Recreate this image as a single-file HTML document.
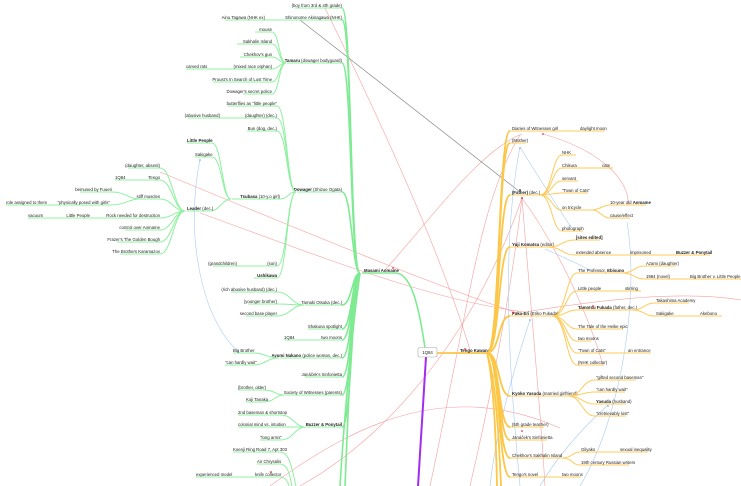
<!DOCTYPE html>
<html><head><meta charset="utf-8"><style>
html,body{margin:0;padding:0;background:#fff;}
svg{display:block;}
text{font-family:"Liberation Sans",sans-serif;font-size:4.3px;fill:#222;}
.b{font-weight:bold;}
.g{fill:none;stroke:#8ff0a0;stroke-width:1;}
.G{fill:none;stroke:#7eeb92;stroke-width:1.6;}
.y{fill:none;stroke:#fdcb5a;stroke-width:1;}
.Y{fill:none;stroke:#fcc646;stroke-width:1.8;}
.r{fill:none;stroke:#f7a0a0;stroke-width:0.6;}
.l{fill:none;stroke:#a9cdf3;stroke-width:0.6;}
</style></head><body>
<svg width="741" height="486" viewBox="0 0 741 486" xmlns="http://www.w3.org/2000/svg">
<!-- cross links -->
<path class="r" d="M325,8 C380,120 440,250 470,350"/>
<path class="r" d="M160,172 C300,230 420,280 520,314"/>
<path class="r" d="M200,213 C330,260 430,300 525,312 C600,300 680,290 741,300"/>
<path class="r" d="M385,270 C430,220 480,150 522,134"/>
<path class="r" d="M543,134 C600,150 630,180 628,205"/>
<path class="r" d="M522,198 C510,300 490,400 470,486"/>
<path class="r" d="M522,198 C530,300 540,400 545,486"/>
<path class="r" d="M522,198 C560,250 590,320 603,365"/>
<path class="r" d="M270,486 C360,420 450,380 560,428"/>
<path class="r" d="M520,135 C480,200 470,300 430,486"/>
<path class="r" d="M300,486 C400,430 480,320 522,198"/>
<path d="M300,20 L520,192" stroke="#888" stroke-width="0.7" fill="none"/>
<path class="l" d="M200,160 C185,230 200,320 240,353"/>
<path class="l" d="M520,147 C540,180 560,210 570,226"/>
<path class="l" d="M545,249 C570,260 580,265 590,270"/>
<path class="l" d="M627,222 C640,300 620,420 580,486"/>
<path class="l" d="M530,320 C510,380 495,440 490,486"/>
<path class="l" d="M608,405 C580,430 555,460 540,486"/>
<path class="l" d="M520,147 C500,250 510,380 520,486"/>
<!-- green trunk -->
<path class="G" d="M342,8 C352,8 350,273 360,273"/>
<path class="G" d="M342,20 C352,20 350,273 360,273"/>
<path class="G" d="M342,63 C352,63 350,273 360,273"/>
<path class="G" d="M342,192 C352,192 352,273 360,273"/>
<path class="G" d="M342,305 C352,305 352,273 360,273"/>
<path class="G" d="M342,329 C352,329 352,273 360,273"/>
<path class="G" d="M342,340 C352,340 352,273 360,273"/>
<path class="G" d="M342,358 C352,358 352,273 360,273"/>
<path class="G" d="M342,377 C352,377 352,273 360,273"/>
<path class="G" d="M342,395 C352,395 352,273 360,273"/>
<path class="G" d="M342,427 C352,427 352,273 360,273"/>
<path class="G" d="M360,273 C350,330 348,420 345,486"/>
<path class="G" d="M360,273 C352,330 344,420 340,486"/>
<path class="G" d="M362,273 H395 C410,273 418,300 425,348"/>
<!-- top left nodes -->
<path class="g" d="M295,8 H342"/><text x="342" y="6.8" text-anchor="end">(boy from 3rd &amp; 4th grade)</text>
<path class="g" d="M225,20 H342"/><text x="342" y="18.8" text-anchor="end">Shinonome Akinagawa (NHK)</text><text x="265" y="18.8" text-anchor="end">Ainu Tagawa (NHK ex)</text>
<path class="g" d="M287,63 H342"/><text x="342" y="61.8" text-anchor="end"><tspan class="b">Tamaru</tspan> (dowager bodyguard)</text>
<path class="g" d="M255,32 H272 C279,32 279,63 286,63"/><text x="272" y="30.8" text-anchor="end">mouse</text>
<path class="g" d="M237,44 H272 C279,44 279,63 286,63"/><text x="272" y="42.8" text-anchor="end">Sakhalin Island</text>
<path class="g" d="M240,57 H272 C279,57 279,63 286,63"/><text x="272" y="55.8" text-anchor="end">Chekhov's gun</text>
<path class="g" d="M186,69 H272 C279,69 279,63 286,63"/><text x="272" y="67.8" text-anchor="end">(mixed race orphan)</text><text x="186" y="67.8">carved rats</text>
<path class="g" d="M213,82 H272 C279,82 279,63 286,63"/><text x="272" y="80.8" text-anchor="end">Proust's In Search of Lost Time</text>
<path class="g" d="M243,94 H272 C279,94 279,63 286,63"/><text x="272" y="92.8" text-anchor="end">Dowager's secret police</text>
<!-- Dowager -->
<path class="g" d="M297,192 H342"/><text x="342" y="190.8" text-anchor="end"><tspan class="b">Dowager</tspan> (Shizue Ogata)</text>
<path class="g" d="M228,106 H277 C287,106 287,192 296,192"/><text x="277" y="104.8" text-anchor="end">butterflies as "little people"</text>
<path class="g" d="M188,118 H277 C287,118 287,192 296,192"/><text x="277" y="116.8" text-anchor="end">(daughter) (dec.)</text><text x="220" y="116.8" text-anchor="end">(abusive husband)</text>
<path class="g" d="M247,131 H277 C287,131 287,192 296,192"/><text x="277" y="129.8" text-anchor="end">Bun (dog, dec.)</text>
<path class="g" d="M232,199 H280 C288,199 288,192 296,192"/><text x="280" y="197.8" text-anchor="end"><tspan class="b">Tsubasa</tspan> (10-y.o girl)</text>
<path class="g" d="M213,266 H277 C287,266 287,192 296,192"/><text x="277" y="264.8" text-anchor="end">(son)</text><text x="237" y="264.8" text-anchor="end">(grandchildren)</text>
<path class="g" d="M254,278 H277 C287,278 287,192 296,192"/><text x="277" y="276.8" text-anchor="end" class="b">Ushikawa</text>
<!-- Tsubasa children -->
<path class="g" d="M187,143 H212 C222,143 222,199 231,199"/><text x="187" y="141.8" class="b">Little People</text>
<path class="g" d="M195,157 H212 C222,157 222,199 231,199"/><text x="195" y="155.8">Sakigake</text>
<path class="g" d="M187,211 H210 C220,211 222,199 231,199"/><text x="187" y="209.8"><tspan class="b">Leader</tspan> (dec.)</text>
<!-- Leader children -->
<path class="g" d="M128,168 H160 C172,168 174,211 185,211"/><text x="160" y="166.8" text-anchor="end">(daughter, absent)</text>
<path class="g" d="M115,180 H160 C172,180 174,211 185,211"/><text x="160" y="178.8" text-anchor="end">Tengo</text><text x="115" y="178.8">1Q84</text>
<path class="g" d="M140,199 H160 C172,199 174,211 185,211"/><text x="160" y="197.8" text-anchor="end">stiff muscles</text>
<path class="g" d="M80,192 H112 C126,192 128,199 140,199"/><text x="112" y="190.8" text-anchor="end">bemused by Fuueri</text>
<path class="g" d="M6,205 H110 C126,205 128,199 140,199"/><text x="110" y="203.8" text-anchor="end">"physically posed with girls"</text><text x="6" y="203.8">role assigned to them</text>
<path class="g" d="M28,218 H160 C172,218 174,211 185,211"/><text x="160" y="216.8" text-anchor="end">Rock needed for destruction</text><text x="90" y="216.8" text-anchor="end">Little People</text><text x="28" y="216.8">vacuum</text>
<path class="g" d="M125,230 H160 C172,230 174,211 185,211"/><text x="160" y="228.8" text-anchor="end">control over Aomame</text>
<path class="g" d="M117,242 H160 C172,242 174,211 185,211"/><text x="160" y="240.8" text-anchor="end">Frazer's The Golden Bough</text>
<path class="g" d="M120,254 H160 C172,254 174,211 185,211"/><text x="160" y="252.8" text-anchor="end">The Brothers Karamazov</text>
<!-- Masami -->
<text x="364" y="271.8" class="b">Masami Aomame</text>
<path class="g" d="M305,305 H342"/><text x="342" y="303.8" text-anchor="end">Tamaki Otsuka (dec.)</text>
<path class="g" d="M231,292 H277 C290,292 292,305 304,305"/><text x="277" y="290.8" text-anchor="end">(rich abusive husband) (dec.)</text>
<path class="g" d="M248,304 H277 C290,304 292,305 304,305"/><text x="277" y="302.8" text-anchor="end">(younger brother)</text>
<path class="g" d="M246,316 H277 C290,316 292,305 304,305"/><text x="277" y="314.8" text-anchor="end">second base player</text>
<path class="g" d="M308,329 H342"/><text x="342" y="327.8" text-anchor="end">Shakuna spotlight</text>
<path class="g" d="M284,340 H342"/><text x="342" y="338.8" text-anchor="end">two moons</text><text x="284" y="338.8">1Q84</text>
<path class="g" d="M280,358 H342"/><text x="342" y="356.8" text-anchor="end"><tspan class="b">Ayumi Nakano</tspan> (police woman, dec.)</text>
<path class="g" d="M233,353 H252 C266,353 266,358 279,358"/><text x="233" y="351.8">Big Brother</text>
<path class="g" d="M225,365 H253 C266,365 266,358 279,358"/><text x="225" y="363.8">"can hardly wait"</text>
<path class="g" d="M305,377 H342"/><text x="342" y="375.8" text-anchor="end">Janáček's Sinfonietta</text>
<path class="g" d="M285,395 H342"/><text x="342" y="393.8" text-anchor="end">Society of Witnesses (parents)</text>
<path class="g" d="M238,390 H263 C275,390 275,395 284,395"/><text x="238" y="388.8">(brother, older)</text>
<path class="g" d="M246,402 H263 C275,402 275,395 284,395"/><text x="246" y="400.8">Koji Tanaka</text>
<path class="g" d="M307,427 H342"/><text x="342" y="425.8" text-anchor="end" class="b">Buzzer &amp; Ponytail</text>
<path class="g" d="M238,415 H280 C294,415 294,427 306,427"/><text x="238" y="413.8">2nd baseman &amp; shortstop</text>
<path class="g" d="M238,427 H306"/><text x="238" y="425.8">colonial mind vs. intuition</text>
<path class="g" d="M260,440 H280 C294,440 294,427 306,427"/><text x="260" y="438.8">"long arms"</text>
<path class="g" d="M233,452 H280 C290,452 292,470 296,486"/><text x="233" y="450.8">Koenji Ring Road 7, Apt 303</text>
<path class="g" d="M257,464 H280 C288,464 290,476 292,486"/><text x="257" y="462.8">Air Chrysalis</text>
<path class="g" d="M196,477 H280 C286,477 288,482 289,486"/><text x="255" y="475.8">knife collector</text><text x="196" y="475.8">experienced model</text>
<!-- center -->
<path d="M426,357 L418,486" stroke="#a22cf0" stroke-width="2" fill="none"/>
<path class="Y" d="M437,353 H487"/>
<rect x="418" y="347.5" width="19" height="9.5" rx="1.5" fill="#fff" stroke="#aaa" stroke-width="0.6"/>
<text x="427.5" y="353.8" text-anchor="middle">1Q84</text>
<text x="460" y="351.8" class="b">Tengo Kawana</text>
<!-- yellow trunk -->
<path class="Y" d="M487,353 C500,353 498,131 510,131"/>
<path class="Y" d="M487,353 C500,353 498,143 510,143"/>
<path class="Y" d="M487,353 C500,353 498,195 510,195"/>
<path class="Y" d="M487,353 C500,353 498,247 510,247"/>
<path class="Y" d="M487,353 C500,353 498,316 510,316"/>
<path class="Y" d="M487,353 C500,353 498,396 510,396"/>
<path class="Y" d="M487,353 C500,353 498,427 510,427"/>
<path class="Y" d="M487,353 C500,353 498,440 510,440"/>
<path class="Y" d="M487,353 C500,353 498,458 510,458"/>
<path class="Y" d="M487,353 C500,353 498,477 510,477"/>
<path class="Y" d="M487,353 C494,380 496,440 497,486"/>
<path class="Y" d="M487,353 C496,380 499,440 501,486"/>
<!-- right nodes -->
<path class="y" d="M510,131 H605"/><text x="512" y="129.8">Diaries of Witnesses girl</text><text x="580" y="129.8">daylight moon</text>
<path class="y" d="M510,143 H526"/><text x="512" y="141.8">(Mother)</text>
<path class="y" d="M510,195 H540"/><text x="512" y="193.8"><tspan class="b">(Father)</tspan> (dec.)</text>
<path class="y" d="M540,195 C552,195 552,155 562,155 H576"/><text x="562" y="153.8">NHK</text>
<path class="y" d="M540,195 C552,195 552,168 562,168 H613"/><text x="562" y="166.8">Chikura</text><text x="602" y="166.8">cats</text>
<path class="y" d="M540,195 C552,195 552,181 562,181 H578"/><text x="562" y="179.8">servant</text>
<path class="y" d="M540,195 C552,195 552,193 562,193 H588"/><text x="562" y="191.8">"Town of Cats"</text>
<path class="y" d="M540,195 C552,195 552,210 562,210 H592"/><text x="562" y="208.8">on tricycle</text>
<path class="y" d="M592,210 C600,210 602,205 610,205 H646"/><text x="610" y="203.8">10-year old <tspan class="b">Aomame</tspan></text>
<path class="y" d="M592,210 C600,210 602,218 610,218 H630"/><text x="610" y="216.8">cause/effect</text>
<path class="y" d="M540,195 C552,195 552,231 562,231 H583"/><text x="562" y="229.8">photograph</text>
<path class="y" d="M510,247 H548"/><text x="512" y="245.8"><tspan class="b">Yuji Komatsu</tspan> (editor)</text>
<path class="y" d="M548,247 C562,247 562,240 575,240 H600"/><text x="576" y="238.8" class="b">[sites edited]</text>
<path class="y" d="M548,247 C562,247 562,255 575,255 H710"/><text x="576" y="253.8">extended absence</text><text x="630" y="253.8">imprisoned</text><text x="676" y="253.8" class="b">Buzzer &amp; Ponytail</text>
<path class="y" d="M552,316 C566,316 566,273 577,273 H622"/><text x="578" y="271.8">The Professor, <tspan class="b">Ebisuno</tspan></text>
<path class="y" d="M622,273 C634,273 634,266 645,266 H676"/><text x="646" y="264.8">Azami (daughter)</text>
<path class="y" d="M622,273 C634,273 634,279 645,279 H741"/><text x="646" y="277.8">1984 (novel)</text><text x="690" y="277.8">Big Brother v. Little People</text>
<path class="y" d="M510,316 H552"/><text x="512" y="314.8"><tspan class="b">Fuka-Eri</tspan> (Eriko Fukada)</text>
<path class="y" d="M552,316 C566,316 566,291 577,291 H641"/><text x="578" y="289.8">Little people</text><text x="625" y="289.8">stirring</text>
<path class="y" d="M552,316 C566,316 566,310 577,310 H632"/><text x="578" y="308.8"><tspan class="b">Tamotsu Fukada</tspan> (father, dec.)</text>
<path class="y" d="M632,310 C644,310 644,303 655,303 H689"/><text x="656" y="301.8">Takashima Academy</text>
<path class="y" d="M632,310 C644,310 644,316 655,316 H722"/><text x="656" y="314.8">Sakigake</text><text x="700" y="314.8">Akebono</text>
<path class="y" d="M552,316 C566,316 566,329 577,329 H623"/><text x="578" y="327.8">The Tale of the Heike epic</text>
<path class="y" d="M552,316 C566,316 566,341 577,341 H591"/><text x="578" y="339.8">two moons</text>
<path class="y" d="M552,316 C566,316 566,353 577,353 H651"/><text x="578" y="351.8">"Town of Cats"</text><text x="628" y="351.8">an entrance</text>
<path class="y" d="M552,316 C566,316 566,365 577,365 H604"/><text x="578" y="363.8">(NHK collector)</text>
<path class="y" d="M510,396 H568"/><text x="512" y="394.8"><tspan class="b">Kyoko Yasuda</tspan> (married girlfriend)</text>
<path class="y" d="M568,396 C582,396 582,380 595,380 H636"/><text x="596" y="378.8">"gifted second baseman"</text>
<path class="y" d="M568,396 C582,396 582,392 595,392 H625"/><text x="596" y="390.8">"can hardly wait"</text>
<path class="y" d="M568,396 C582,396 582,404 595,404 H626"/><text x="596" y="402.8"><tspan class="b">Yasuda</tspan> (husband)</text>
<path class="y" d="M568,396 C582,396 582,416 595,416 H626"/><text x="596" y="414.8">"irretrievably lost"</text>
<path class="y" d="M510,427 H544"/><text x="512" y="425.8">(5th grade teacher)</text>
<path class="y" d="M510,440 H547"/><text x="512" y="438.8">Janáček's Sinfonietta</text>
<path class="y" d="M510,458 H562"/><text x="512" y="456.8">Chekhov's Sakhalin Island</text>
<path class="y" d="M562,458 C572,458 572,452 580,452 H648"/><text x="581" y="450.8">Gilyaks</text><text x="620" y="450.8">sexual inequality</text>
<path class="y" d="M562,458 C572,458 572,465 580,465 H629"/><text x="581" y="463.8">19th century Russian writers</text>
<path class="y" d="M510,477 H581"/><text x="512" y="475.8">Tengo's novel</text><text x="562" y="475.8">two moons</text>
<!-- markers -->
<g fill="#e33"><circle cx="522" cy="198" r="1"/><circle cx="543" cy="134" r="0.9"/><circle cx="465" cy="349" r="0.9"/><circle cx="513" cy="313" r="0.9"/><circle cx="393" cy="268" r="0.9"/><circle cx="522" cy="431" r="0.9"/><circle cx="271" cy="472" r="0.9"/><circle cx="593" cy="306" r="0.9"/></g>
<g fill="#5aa6f0"><circle cx="520" cy="148" r="0.8"/><circle cx="570" cy="226" r="0.8"/><circle cx="590" cy="270" r="0.8"/><circle cx="200" cy="160" r="0.8"/><circle cx="530" cy="320" r="0.8"/><circle cx="608" cy="406" r="0.8"/></g>
<circle cx="520" cy="190" r="0.9" fill="#333"/>
</svg>
</body></html>
